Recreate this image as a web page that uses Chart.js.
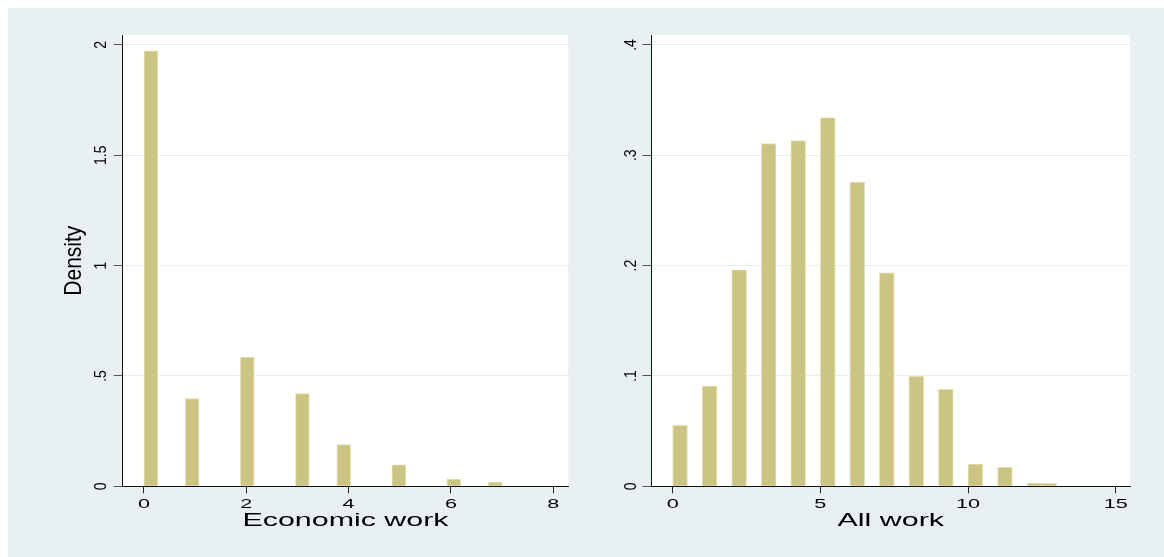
<!DOCTYPE html>
<html>
<head>
<meta charset="utf-8">
<script src="https://cdn.jsdelivr.net/npm/chart.js@4/dist/chart.umd.min.js"></script>
<style>
  html, body { margin: 0; padding: 0; background: #ffffff; }
  #frame { position: absolute; left: 8px; top: 8px; width: 1156px; height: 549px; background: #e8f0f2; }
  #left { position: absolute; left: 0px; top: 0px; }
  #right { position: absolute; left: 592px; top: 0px; }
</style>
</head>
<body>
<div id="frame">
  <canvas id="left" width="592" height="549"></canvas>
  <canvas id="right" width="564" height="549"></canvas>
</div>
<script>
// ---------------- data ----------------
// Economic work: observed values and histogram density of each value's bin
const econValues  = [0, 1, 2, 3, 4, 5, 6, 7];
const econDensity = [1.973, 0.397, 0.585, 0.420, 0.189, 0.097, 0.033, 0.0195];
const econRange   = [0, 7];
const econBins    = 26;

// All work
const allValues  = [0, 1, 2, 3, 4, 5, 6, 7, 8, 9, 10, 11, 12, 13];
const allDensity = [0.0553, 0.0909, 0.1962, 0.3107, 0.3134, 0.3342, 0.2756, 0.1935, 0.0996, 0.0879, 0.0202, 0.0172, 0.0030, 0.0027];
const allRange   = [0, 13];
const allBins    = 26;

// Axis ticks and labels
const econXTicks  = [0, 2, 4, 6, 8];
const allXTicks   = [0, 5, 10, 15];
const econYTicks  = [0, 0.5, 1, 1.5, 2];
const econYLabels = ['0', '.5', '1', '1.5', '2'];
const allYTicks   = [0, 0.1, 0.2, 0.3, 0.4];
const allYLabels  = ['0', '.1', '.2', '.3', '.4'];

const econXTitle = 'Economic work';
const allXTitle  = 'All work';
const yTitle     = 'Density';

// ---------------- styling ----------------
const FONT = "'Liberation Sans', Arial, Helvetica, sans-serif";
const BAR_FILL = '#cbc482';
const BAR_EDGE = '#e4e0b4';
const GRID = '#e6eef1';
const TEXT_STRETCH = 1.6;      // wide, horizontally stretched lettering of the original
const TEXT_STRETCH_ROT = 1.15;

// stretch horizontally in screen space around the text anchor
const origFill = CanvasRenderingContext2D.prototype.fillText;
CanvasRenderingContext2D.prototype.fillText = function (text, x, y, maxWidth) {
  const m = this.getTransform();
  const rotated = Math.abs(m.b) > 1e-6;
  const sx = rotated ? TEXT_STRETCH_ROT : TEXT_STRETCH;
  const p = m.transformPoint(new DOMPoint(x, y));
  this.setTransform(new DOMMatrix().translate(p.x, p.y).scale(sx, 1).translate(-p.x, -p.y).multiply(m));
  origFill.call(this, text, x, y);
  this.setTransform(m);
};

// histogram table for the library: one entry per bin (empty bins -> null)
function histogramTable(values, density, range, bins) {
  const w = (range[1] - range[0]) / bins;
  const ys = new Array(bins).fill(null);
  values.forEach((v, i) => {
    const b = Math.min(Math.floor((v - range[0]) / w + 1e-9), bins - 1);
    ys[b] = density[i];
  });
  return ys.map((y, i) => ({ x: range[0] + (i + 0.5) * w, y: y }));
}

const plotBg = {
  id: 'plotBg',
  beforeDraw(chart) {
    const { ctx, chartArea: a } = chart;
    ctx.save();
    ctx.fillStyle = '#ffffff';
    ctx.fillRect(a.left, a.top, a.right - a.left, a.bottom - a.top);
    ctx.restore();
  }
};

function makeChart(id, cfg) {
  const canvas = document.getElementById(id);
  const H = canvas.height;
  return new Chart(canvas, {
    type: 'bar',
    data: {
      datasets: [{
        data: histogramTable(cfg.values, cfg.density, cfg.range, cfg.bins),
        backgroundColor: BAR_FILL,
        borderColor: BAR_EDGE,
        borderWidth: 1,
        categoryPercentage: 1.0,
        barPercentage: 1.0
      }]
    },
    options: {
      responsive: false,
      animation: false,
      devicePixelRatio: 1,
      layout: { padding: { left: 0, top: 27, right: cfg.padRight, bottom: 0 } },
      plugins: { legend: { display: false }, tooltip: { enabled: false } },
      scales: {
        x: {
          type: 'linear',
          min: cfg.xMin, max: cfg.xMax,
          offset: false,
          afterBuildTicks: s => { s.ticks = cfg.xTicks.map(v => ({ value: v })); },
          afterFit: s => { s.height = H - 478.3; },
          ticks: { font: { family: FONT, size: 13.5 }, color: '#000', padding: 3, maxRotation: 0, minRotation: 0, autoSkip: false },
          grid: { display: true, drawOnChartArea: false, drawTicks: true, tickLength: 7, tickColor: '#222', offset: false, lineWidth: 1 },
          border: { display: true, color: '#111', width: 1 },
          title: { display: true, text: cfg.xTitle, color: '#000', font: { family: FONT, size: 19 }, padding: { top: 0, bottom: 24.5 } }
        },
        y: {
          type: 'linear',
          min: 0, max: cfg.yMax,
          afterBuildTicks: s => { s.ticks = cfg.yTicks.map(v => ({ value: v })); },
          afterFit: s => { s.width = cfg.yWidth; },
          ticks: {
            font: { family: FONT, size: 14 }, color: '#000',
            minRotation: 90, maxRotation: 90, crossAlign: 'center',
            padding: cfg.yPad, autoSkip: false,
            callback: (v, i) => cfg.yLabels[i]
          },
          grid: { display: true, color: GRID, lineWidth: 1, drawTicks: true, tickLength: 9, tickColor: '#555' },
          border: { display: true, color: '#111', width: 1 },
          title: cfg.yTitle ? { display: true, text: cfg.yTitle, color: '#000', font: { family: FONT, size: 21 }, padding: { top: 54, bottom: 0 } } : { display: false }
        }
      }
    },
    plugins: [plotBg]
  });
}

makeChart('left', {
  values: econValues, density: econDensity, range: econRange, bins: econBins,
  xMin: -0.416, xMax: 8.294, yMax: 2.045,
  xTicks: econXTicks, yTicks: econYTicks, yLabels: econYLabels,
  xTitle: econXTitle, yTitle: yTitle,
  yWidth: 114.7, yPad: 2, padRight: 592 - 560.3
});

makeChart('right', {
  values: allValues, density: allDensity, range: allRange, bins: allBins,
  xMin: -0.718, xMax: 15.485, yMax: 0.409,
  xTicks: allXTicks, yTicks: allYTicks, yLabels: allYLabels,
  xTitle: allXTitle, yTitle: null,
  yWidth: 51.5, yPad: 5.5, padRight: 564 - 530
});
</script>
</body>
</html>
